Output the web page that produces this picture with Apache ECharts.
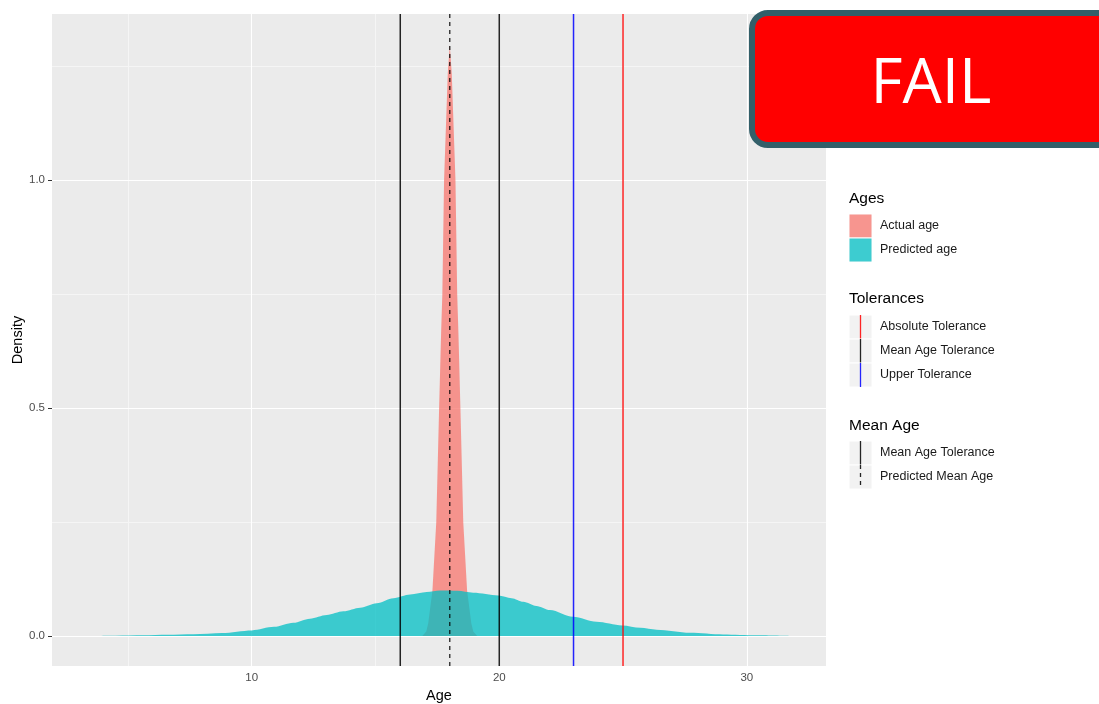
<!DOCTYPE html>
<html>
<head>
<meta charset="utf-8">
<script src="https://cdn.jsdelivr.net/npm/echarts@6/dist/echarts.min.js"></script>
<style>
html,body{margin:0;padding:0;background:#fff;}
#chart{width:1099px;height:704px;}
</style>
</head>
<body>
<div id="chart"></div>
<script>
// ---- data ----
const xTicks = [10, 20, 30];
const xMinor = [5, 15, 25];
const yTicks = [0, 0.5, 1.0];
const yMinor = [0.25, 0.75, 1.25];
const xRange = [1.93, 33.2];
const yRange = [-0.0658, 1.364];

// Actual age density [age, density]
const actualAge = [[16.89,0],[17.05,0.01],[17.13,0.028],[17.3,0.1],[17.455,0.25],[17.57,0.5],[17.65,0.664],[17.7,0.75],[17.77,1.0],[17.92,1.234],[18.0,1.296],[18.08,1.234],[18.23,1.0],[18.3,0.75],[18.35,0.664],[18.43,0.5],[18.545,0.25],[18.7,0.1],[18.87,0.028],[18.95,0.01],[19.11,0]];
// Predicted age density [age, density]
const predictedAge = [[3.4,0],[4.5,0.0008],[5.62,0.0015],[6.6,0.0025],[7.64,0.0037],[8.8,0.0065],[10.0,0.0123],[10.9,0.02],[11.68,0.029],[12.35,0.038],[13.03,0.046],[13.7,0.054],[14.38,0.062],[15.05,0.072],[15.72,0.083],[16.4,0.091],[17.07,0.0965],[17.61,0.0995],[18.3,0.099],[18.95,0.095],[19.96,0.089],[20.5,0.083],[20.97,0.075],[21.5,0.066],[22.05,0.057],[22.98,0.042],[23.93,0.031],[24.97,0.023],[25.7,0.018],[26.36,0.0138],[27.71,0.0072],[29.05,0.0035],[30.4,0.0015],[31.75,0]];

const absoluteTolerance = [25];
const upperTolerance = [23];
const meanAgeTolerance = [16, 20];
const predictedMeanAge = [18];

const agesLegend = ['Actual age', 'Predicted age'];
const toleranceLegend = ['Absolute Tolerance', 'Mean Age Tolerance', 'Upper Tolerance'];
const meanAgeLegend = ['Mean Age Tolerance', 'Predicted Mean Age'];

// ---- styles ----
const FONT = 'Liberation Sans, Arial, sans-serif';
const RED = '#F8766D', TEAL = '#00BFC4', ALPHA = 0.75;
const tolColors = ['#FF0000', '#000000', '#0000FF'];

const chart = echarts.init(document.getElementById('chart'), null, {renderer: 'canvas'});

// vertical reference lines as line series spanning the y range
function vlineSeries(vals, color, type, width) {
  return vals.map(v => ({
    type: 'line', z: 4, silent: true, showSymbol: false, clip: true,
    data: [[v, yRange[0]], [v, yRange[1]]],
    lineStyle: {color: color, width: width || 1.5, type: type || 'solid', opacity: 0.85},
    emphasis: {disabled: true}
  }));
}

// legend graphics
const g = [];
const LX = 849, KW = 23, KH = 24, TX = 880;
function title(text, yc) {
  g.push({type: 'text', left: LX, top: yc - 9, style: {text: text, font: '15.5px ' + FONT, fill: '#000'}});
}
function label(text, yc) {
  g.push({type: 'text', left: TX, top: yc - 7, style: {text: text, font: '12.5px ' + FONT, fill: '#1A1A1A'}});
}
function keyBg(y) {
  g.push({type: 'rect', shape: {x: LX, y: y, width: KW, height: KH}, style: {fill: '#F2F2F2', stroke: '#FFFFFF', lineWidth: 1}});
}
title('Ages', 200);
[[RED, 214], [TEAL, 238]].forEach((k, i) => {
  keyBg(k[1]);
  g.push({type: 'rect', shape: {x: LX + 0.5, y: k[1] + 0.5, width: KW - 1, height: KH - 1}, style: {fill: k[0], opacity: ALPHA}});
  label(agesLegend[i], k[1] + 12);
});
title('Tolerances', 300);
toleranceLegend.forEach((t, i) => {
  const y = 315 + i * 24;
  keyBg(y);
  g.push({type: 'line', shape: {x1: LX + 11.5, y1: y, x2: LX + 11.5, y2: y + KH}, style: {stroke: tolColors[i], lineWidth: 1.3, opacity: 0.85}});
  label(t, y + 12);
});
title('Mean Age', 427);
meanAgeLegend.forEach((t, i) => {
  const y = 441 + i * 24;
  keyBg(y);
  g.push({type: 'line', shape: {x1: LX + 11.5, y1: y, x2: LX + 11.5, y2: y + KH}, style: {stroke: '#000', lineWidth: 1.3, opacity: 0.85, lineDash: i ? [4, 4] : null}});
  label(t, y + 12);
});
// FAIL badge
g.push({type: 'rect', z: 100, shape: {x: 752, y: 13, width: 380, height: 132, r: 16}, style: {fill: '#FF0000', stroke: '#335F69', lineWidth: 6}});
g.push({type: 'text', z: 101, x: 931, y: 85, style: {text: 'FAIL', font: '62px Open Sans, sans-serif', fill: '#FFFFFF', align: 'center', verticalAlign: 'middle'}});

const option = {
  animation: false,
  backgroundColor: '#FFFFFF',
  grid: {left: 52, top: 14, right: 273, bottom: 38, show: true, backgroundColor: '#EBEBEB', borderWidth: 0, containLabel: false, outerBoundsMode: 'none'},
  xAxis: {
    type: 'value', min: xRange[0], max: xRange[1],
    name: 'Age', nameLocation: 'middle', nameGap: 22,
    nameTextStyle: {fontFamily: FONT, fontSize: 14.5, color: '#000'},
    axisLine: {show: false},
    axisTick: {show: true, length: 4, customValues: xTicks, lineStyle: {color: '#333'}},
    axisLabel: {customValues: xTicks, margin: 6, fontFamily: FONT, fontSize: 11.5, color: '#4D4D4D'},
    splitLine: {show: false}
  },
  yAxis: {
    type: 'value', min: yRange[0], max: yRange[1],
    name: 'Density', nameLocation: 'middle', nameGap: 27, nameRotate: 90, nameMoveOverlap: false,
    nameTextStyle: {fontFamily: FONT, fontSize: 14.5, color: '#000'},
    axisLine: {show: false},
    axisTick: {show: true, length: 4, customValues: yTicks, lineStyle: {color: '#333'}},
    axisLabel: {customValues: yTicks, margin: 7, fontFamily: FONT, fontSize: 11.5, color: '#4D4D4D', formatter: v => v.toFixed(1)},
    splitLine: {show: false}
  },
  graphic: g,
  series: [
    {
      type: 'line', data: [], z: 1, silent: true,
      markLine: {
        z: 1, symbol: 'none', silent: true, label: {show: false}, animation: false,
        data: [
          ...xMinor.map(v => ({xAxis: v, lineStyle: {color: '#F5F5F5', width: 1, type: 'solid'}})),
          ...yMinor.map(v => ({yAxis: v, lineStyle: {color: '#F5F5F5', width: 1, type: 'solid'}})),
          ...xTicks.map(v => ({xAxis: v, lineStyle: {color: '#FFFFFF', width: 1.1, type: 'solid'}})),
          ...yTicks.map(v => ({yAxis: v, lineStyle: {color: '#FFFFFF', width: 1.1, type: 'solid'}}))
        ]
      }
    },
    {
      name: 'Actual age', type: 'line', z: 2, data: actualAge, showSymbol: false, smooth: false,
      lineStyle: {width: 0}, areaStyle: {color: RED, opacity: ALPHA}, silent: true
    },
    {
      name: 'Predicted age', type: 'line', z: 3, data: predictedAge, showSymbol: false, smooth: 0.3, smoothMonotone: 'x',
      lineStyle: {width: 0}, areaStyle: {color: TEAL, opacity: ALPHA}, silent: true
    },
    ...vlineSeries(meanAgeTolerance, '#000000'),
    ...vlineSeries(upperTolerance, '#0000FF'),
    ...vlineSeries(absoluteTolerance, '#FF0000'),
    ...vlineSeries(predictedMeanAge, '#000000', [4, 4], 1.3)
  ]
};
chart.setOption(option);
</script>
</body>
</html>
